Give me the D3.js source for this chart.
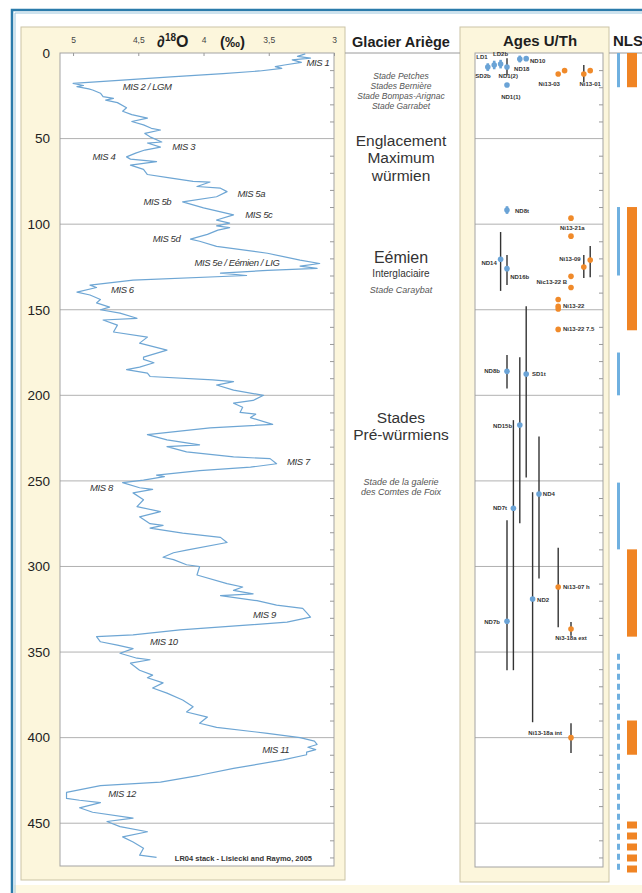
<!DOCTYPE html>
<html>
<head>
<meta charset="utf-8">
<script src="https://cdn.jsdelivr.net/npm/d3@7"></script>
<style>
  body { margin: 0; background: #fff; }
  text { font-family: "Liberation Sans", Arial, sans-serif; }
</style>
</head>
<body>
<div id="chart"></div>
<script>
// LR04 benthic d18O stack (age in ka, d18O in permil)
var ageKa = [0.5, 2, 3, 4, 5.5, 7, 8, 9, 10.5, 12, 14, 16, 17.7, 19, 19.6, 21, 21.6, 23.5, 25.5, 26.5,
  27.5, 29, 32, 34, 36, 38, 40, 42, 44, 45, 47, 49, 52, 52.6, 55, 56.7, 58.5, 60.7, 62, 63.5,
  65.5, 68, 71, 73, 75, 75.4, 78, 79, 81, 84, 87, 90.5, 94.6, 97.6, 99.4, 101, 102, 103.5, 106, 108.7,
  110, 113, 117, 121, 123, 124.5, 125.8, 127, 128.6, 130, 132.7, 135.6, 137, 139.7, 141.4, 144, 146, 148.5, 150, 152,
  155, 156, 159, 163, 166, 169.5, 173.6, 177.7, 179, 181, 183.5, 185, 187, 189, 191, 192, 194, 197, 200, 203,
  204.6, 207, 210, 211, 213, 217, 219, 223, 226, 229, 230, 233, 236, 237, 240, 242, 244, 246.6, 247.5, 249.6,
  251, 254, 255, 257, 261, 265, 268, 271, 275, 276, 277.6, 280.5, 283, 286, 290.5, 292, 294.6, 296, 299, 300,
  305, 310, 312, 314, 316, 317, 320, 322.6, 324.5, 327, 329.6, 332.5, 334, 337, 340, 341, 344, 346, 348, 350.7,
  353.6, 354.5, 356.5, 360.6, 363.5, 365, 368, 371, 374, 378, 382, 385, 388, 391.6, 394, 397.5, 400, 402, 404, 405.6,
  407, 408.5, 410, 413, 418, 422, 426, 428, 432, 435.5, 436.6, 438, 441, 443.6, 447, 449, 452, 455, 458, 461,
  464.6, 468.7, 470];
var d18O = [3.22, 3.28, 3.18, 3.32, 3.25, 3.38, 3.45, 3.40, 3.57, 3.85, 4.25, 4.65, 5.0, 4.92, 4.97, 4.88, 4.85, 4.79, 4.77, 4.69,
  4.75, 4.66, 4.59, 4.62, 4.55, 4.43, 4.55, 4.46, 4.40, 4.33, 4.45, 4.41, 4.32, 4.43, 4.33, 4.45, 4.52, 4.59, 4.56, 4.36,
  4.56, 4.46, 4.43, 4.26, 4.08, 3.95, 4.05, 3.87, 3.82, 3.90, 4.16, 4.00, 3.77, 3.90, 3.80, 3.90, 3.80, 3.89, 3.97, 4.10,
  4.03, 3.90, 3.51, 3.26, 3.11, 3.26, 3.13, 3.51, 3.87, 3.67, 4.54, 4.87, 4.82, 4.97, 4.87, 4.79, 4.82, 4.72, 4.79, 4.64,
  4.51, 4.77, 4.66, 4.69, 4.43, 4.49, 4.28, 4.46, 4.46, 4.38, 4.49, 4.59, 4.43, 4.41, 3.93, 3.77, 3.90, 3.77, 3.54, 3.62,
  3.77, 3.70, 3.72, 3.60, 3.64, 3.47, 3.95, 4.43, 4.28, 4.03, 4.28, 4.13, 3.77, 3.49, 3.44, 3.64, 4.03, 4.36, 4.30, 4.46,
  4.62, 4.49, 4.39, 4.54, 4.46, 4.51, 4.33, 4.49, 4.41, 4.31, 4.41, 4.16, 3.87, 3.82, 4.13, 4.23, 4.31, 4.23, 4.13, 4.03,
  4.05, 3.82, 3.70, 3.77, 3.62, 3.87, 3.59, 3.44, 3.24, 3.21, 3.18, 3.36, 3.62, 4.18, 4.54, 4.82, 4.79, 4.66, 4.54, 4.64,
  4.51, 4.41, 4.56, 4.49, 4.39, 4.43, 4.31, 4.39, 4.28, 4.16, 4.08, 4.13, 3.97, 4.03, 3.90, 3.51, 3.26, 3.15, 3.13, 3.20,
  3.14, 3.21, 3.21, 3.39, 3.77, 4.03, 4.33, 4.79, 5.05, 5.05, 4.95, 4.79, 4.95, 4.85, 4.54, 4.74, 4.64, 4.43, 4.62, 4.54,
  4.46, 4.49, 4.36];

// axis ticks
var yTicks = [0, 50, 100, 150, 200, 250, 300, 350, 400, 450];
var xTicks = [5, 4.5, 4, 3.5, 3];
var xTickLabels = ["5", "4,5", "4", "3,5", "3"];

// marine isotope stage labels (age, d18O where the label starts)
var misText = ["MIS 1", "MIS 2 / LGM", "MIS 3", "MIS 4", "MIS 5a", "MIS 5b", "MIS 5c", "MIS 5d",
  "MIS 5e / Eémien / LIG", "MIS 6", "MIS 7", "MIS 8", "MIS 9", "MIS 10", "MIS 11", "MIS 12"];
var misAge = [5.8, 19.9, 55, 60.8, 82.4, 87, 94.7, 108.7, 122.7, 138, 239, 254, 328, 343.7, 407, 433];
var misD18O = [3.21, 4.62, 4.24, 4.85, 3.74, 4.46, 3.68, 4.39, 4.07, 4.71, 3.36, 4.87, 3.62, 4.41, 3.55, 4.73];

// U/Th ages : one entry per dot (lane = column in the panel, group: speleothem ND/LD/SD or Niaux Ni)
var sampleAge = [8.2, 7, 6.4, 8.2, 3.5, 3.3, 18.7, 12.3, 10.3, 12.3, 10.3, 91.8, 96.5, 107, 120.5, 126, 125, 121,
  130.5, 137, 144, 148, 149.5, 161.5, 186, 187.6, 217.4, 257.7, 266, 319, 332, 312, 336.6, 400];
var sampleMin = [6, 4.5, 4, 3, 1.5, null, null, null, null, 7, null, 89.5, null, null, 104.6, 118, 118, 112.8,
  null, null, null, null, null, null, 176.5, 148, 177.7, 224, 214.5, 256.6, 273, 289, 332.5, 391.6];
var sampleMax = [10.5, 9.5, 9, 13, 5.5, null, null, null, null, 17, null, 94, null, null, 139, 135.6, 131.5, 131,
  null, null, null, null, null, null, 196, 248, 274.7, 307, 360.6, 391, 360.6, 335.5, 340.5, 409];
var sampleLane = [2, 3, 4, 5, 7, 8, 5, 13, 14, 17, 18, 5, 15, 15, 4, 5, 17, 18,
  15, 15, 13, 13, 13, 13, 5, 8, 7, 10, 6, 9, 5, 13, 15, 15];
var sampleGroup = ["ND", "ND", "ND", "ND", "ND", "ND", "ND", "Ni", "Ni", "Ni", "Ni", "ND", "Ni", "Ni", "ND", "ND", "Ni", "Ni",
  "Ni", "Ni", "Ni", "Ni", "Ni", "Ni", "ND", "ND", "ND", "ND", "ND", "ND", "ND", "Ni", "Ni", "Ni"];

// sample names (age, lane of the label, anchor)
var labelText = ["LD1", "LD2b", "SD2b", "ND1(2)", "ND18", "ND10", "ND1(1)", "Ni13-03", "Ni13-01", "ND8t", "Ni13-21a",
  "ND14", "ND16b", "Ni13-09", "Nic13-22 B", "Ni13-22", "Ni13-22 7.5", "ND8b", "SD1t", "ND15b", "ND4", "ND7t",
  "ND2", "ND7b", "Ni13-07 h", "Ni3-18a ext", "Ni13-18a int"];
var labelAge = [2.3, 0.8, 13.4, 13.4, 9.4, 4.7, 25.7, 18, 18, 92, 102.3, 122.7, 131, 120.4, 133.8, 147.9, 161.3,
  185.9, 187.6, 218, 257.7, 266, 319.7, 332.6, 312, 341.9, 397.4];
var labelLane = [1.1, 4, 1.25, 5.2, 7.3, 8.6, 5.6, 11.6, 18, 6.25, 15.2, 3.4, 5.5, 16.5, 14.4, 13.75, 13.75,
  3.9, 8.9, 5.8, 10.6, 5, 9.7, 3.9, 13.75, 15, 13.6];
var labelAnchor = ["middle", "middle", "middle", "middle", "middle", "start", "middle", "middle", "middle", "start", "middle",
  "end", "start", "end", "end", "start", "start", "end", "start", "end", "start", "end",
  "start", "end", "start", "middle", "end"];

// NLS periods (ka)
var nlsBlue = [[0, 20], [90, 130], [175, 200], [251, 290]];
var nlsBlueDashed = [[351, 478]];
var nlsOrange = [[0, 20], [90, 162], [290, 341], [390, 410]];
var nlsOrangeDashed = [[449, 479]];


var width = 642, height = 893;
var cream = "#fcf6dc", creamEdge = "#cbc4a6", gridCol = "#9d9d9d";
var blue = "#6aa3d6", orange = "#f08a2a";

var svg = d3.select("#chart")
  .append("svg")
  .attr("width", width)
  .attr("height", height);

// shared age scale and the two x scales
var y = d3.scaleLinear().domain([0, 475]).range([53, 866]);
var x = d3.scaleLinear().domain([5.1, 3]).range([60, 334]);
var xLane = d3.scaleLinear().domain([0, 20]).range([475, 603]);
var xNls = d3.scalePoint().domain(["blue", "orange"]).range([618.5, 632]);

// pale strip at the bottom and outer blue frame
svg.append("rect").attr("x", 14).attr("y", 885).attr("width", width - 14).attr("height", 8).attr("fill", "#fdf8e2");
svg.append("path")
  .attr("d", "M12," + height + "V10H" + width)
  .attr("fill", "none").attr("stroke", "#2b7bab").attr("stroke-width", 2.5);
svg.append("path")
  .attr("d", "M15," + height + "V13H" + width)
  .attr("fill", "none").attr("stroke", "#9cc6dd").attr("stroke-width", 1);

// cream panels
svg.append("rect").attr("x", 21).attr("y", 27).attr("width", 324).attr("height", 853)
  .attr("fill", cream).attr("stroke", creamEdge).attr("stroke-width", 1);
svg.append("rect").attr("x", 460).attr("y", 27).attr("width", 149).attr("height", 855)
  .attr("fill", cream).attr("stroke", creamEdge).attr("stroke-width", 1);

// white plot areas
svg.append("rect").attr("x", x.range()[0]).attr("y", y.range()[0])
  .attr("width", x.range()[1] - x.range()[0]).attr("height", y.range()[1] - y.range()[0])
  .attr("fill", "#fff").attr("stroke", "#a3a3a3").attr("stroke-width", 1);
svg.append("rect").attr("x", xLane.range()[0]).attr("y", y.range()[0])
  .attr("width", xLane.range()[1] - xLane.range()[0]).attr("height", y.range()[1] - y.range()[0] + 1)
  .attr("fill", "#fff").attr("stroke", "#a3a3a3").attr("stroke-width", 1);

// header separators
svg.append("line").attr("x1", 345).attr("x2", 460).attr("y1", 53).attr("y2", 53).attr("stroke", "#9a9a9a");
svg.append("line").attr("x1", 609).attr("x2", width).attr("y1", 53).attr("y2", 53).attr("stroke", "#9a9a9a");

// ---------- left panel : d18O ----------
var grid = yTicks.filter(function (d) { return d > 0; });
svg.append("g").selectAll("line").data(grid).enter().append("line")
  .attr("x1", x.range()[0]).attr("x2", x.range()[1])
  .attr("y1", function (d) { return y(d); }).attr("y2", function (d) { return y(d); })
  .attr("stroke", gridCol).attr("stroke-width", 0.8);

// y axis labels
var yAxis = svg.append("g")
  .attr("transform", "translate(" + x.range()[0] + ",0)")
  .call(d3.axisLeft(y).tickValues(yTicks).tickSize(0).tickPadding(10));
yAxis.select(".domain").remove();
yAxis.selectAll("text").attr("font-size", 13.5).attr("fill", "#222")
  .attr("font-family", "'Liberation Sans', Arial, sans-serif");

// top axis
var xAxis = svg.append("g")
  .attr("transform", "translate(0," + y.range()[0] + ")")
  .call(d3.axisTop(x).tickValues(xTicks)
    .tickFormat(function (d, i) { return xTickLabels[i]; })
    .tickSize(-3).tickPadding(10));
xAxis.select(".domain").remove();
xAxis.selectAll("line").attr("stroke", "#999");
xAxis.selectAll("text").attr("font-size", 8.5).attr("fill", "#444")
  .attr("font-family", "'Liberation Sans', Arial, sans-serif");

// minor ticks every 10 ka on the right edges
var minor = d3.range(10, 475, 10).filter(function (d) { return d % 50 !== 0; });
[x.range()[1], xLane.range()[1]].forEach(function (xr) {
  var g = svg.append("g")
    .attr("transform", "translate(" + xr + ",0)")
    .call(d3.axisRight(y).tickValues(minor).tickSize(-4).tickFormat(""));
  g.select(".domain").remove();
  g.selectAll("line").attr("stroke", "#999");
});

// title of the d18O axis
var title = svg.append("text").attr("x", 157).attr("y", 47)
  .attr("font-size", 16).attr("font-weight", "bold").attr("fill", "#1e1e1e");
title.append("tspan").text("∂");
title.append("tspan").attr("font-size", 10).attr("dy", -6).text("18");
title.append("tspan").attr("dy", 6).text("O");
svg.append("text").attr("x", 220).attr("y", 47)
  .attr("font-size", 15).attr("font-weight", "bold").attr("fill", "#1e1e1e").text("(‰)");

// the curve
var line = d3.line()
  .x(function (d) { return x(d[1]); })
  .y(function (d) { return y(d[0]); });
svg.append("path")
  .datum(d3.zip(ageKa, d18O))
  .attr("fill", "none")
  .attr("stroke", "#6ea6d4")
  .attr("stroke-width", 1.2)
  .attr("stroke-linejoin", "round")
  .attr("d", line);

// MIS labels
svg.append("g").selectAll("text").data(misText).enter().append("text")
  .attr("x", function (d, i) { return x(misD18O[i]); })
  .attr("y", function (d, i) { return y(misAge[i]); })
  .attr("dy", "0.35em")
  .attr("font-size", 9.5).attr("font-style", "italic").attr("letter-spacing", -0.4)
  .attr("fill", "#333")
  .text(function (d) { return d; });

svg.append("text").attr("x", 312).attr("y", 861).attr("text-anchor", "end")
  .attr("font-size", 7.5).attr("font-weight", "bold").attr("fill", "#333")
  .text("LR04 stack - Lisiecki and Raymo, 2005");

// ---------- middle column : Glacier Ariège ----------
var cx = 401;
svg.append("text").attr("x", cx).attr("y", 47).attr("text-anchor", "middle")
  .attr("font-size", 14.5).attr("font-weight", "bold").attr("fill", "#1e1e1e").text("Glacier Ariège");

var stages = [
  ["Stade Petches", 79, 8.5, "italic"], ["Stades Bernière", 89, 8.5, "italic"],
  ["Stade Bompas-Arignac", 99, 8.5, "italic"], ["Stade Garrabet", 109, 8.5, "italic"],
  ["Englacement", 145.5, 15.5, "normal"], ["Maximum", 163, 15.5, "normal"], ["würmien", 180.5, 15.5, "normal"],
  ["Eémien", 263, 16, "normal"], ["Interglaciaire", 277, 10, "normal"], ["Stade Caraybat", 293, 9, "italic"],
  ["Stades", 423, 15.5, "normal"], ["Pré-würmiens", 440, 15.5, "normal"],
  ["Stade de la galerie", 485, 9, "italic"], ["des Comtes de Foix", 495, 9, "italic"]
];
svg.append("g").selectAll("text").data(stages).enter().append("text")
  .attr("x", cx).attr("y", function (d) { return d[1]; })
  .attr("text-anchor", "middle")
  .attr("font-size", function (d) { return d[2]; })
  .attr("font-style", function (d) { return d[3]; })
  .attr("fill", function (d) { return d[3] === "italic" ? "#555" : "#333"; })
  .text(function (d) { return d[0]; });

// ---------- Ages U/Th panel ----------
svg.append("text").attr("x", 540).attr("y", 46).attr("text-anchor", "middle")
  .attr("font-size", 15).attr("font-weight", "bold").attr("fill", "#1e1e1e").text("Ages U/Th");

svg.append("g").selectAll("line").data(grid).enter().append("line")
  .attr("x1", xLane.range()[0]).attr("x2", xLane.range()[1])
  .attr("y1", function (d) { return y(d); }).attr("y2", function (d) { return y(d); })
  .attr("stroke", gridCol).attr("stroke-width", 0.8);

var idx = d3.range(sampleAge.length);
var colorOf = function (i) { return sampleGroup[i] === "Ni" ? orange : blue; };

// error bars : long ones dark, short ones in the dot colour (diamond look)
svg.append("g").selectAll("line").data(idx.filter(function (i) { return sampleMin[i] !== null; }))
  .enter().append("line")
  .attr("x1", function (i) { return xLane(sampleLane[i]); })
  .attr("x2", function (i) { return xLane(sampleLane[i]); })
  .attr("y1", function (i) { return y(sampleMin[i]); })
  .attr("y2", function (i) { return y(sampleMax[i]); })
  .attr("stroke", function (i) { return sampleMax[i] - sampleMin[i] < 6 ? colorOf(i) : "#333"; })
  .attr("stroke-width", function (i) { return sampleMax[i] - sampleMin[i] < 6 ? 2.6 : 1.4; });

svg.append("g").selectAll("circle").data(idx).enter().append("circle")
  .attr("cx", function (i) { return xLane(sampleLane[i]); })
  .attr("cy", function (i) { return y(sampleAge[i]); })
  .attr("r", 2.8)
  .attr("fill", colorOf);

svg.append("g").selectAll("text").data(labelText).enter().append("text")
  .attr("x", function (d, i) { return xLane(labelLane[i]); })
  .attr("y", function (d, i) { return y(labelAge[i]); })
  .attr("dy", "0.35em")
  .attr("text-anchor", function (d, i) { return labelAnchor[i]; })
  .attr("font-size", 6).attr("font-weight", "bold").attr("fill", "#333")
  .text(function (d) { return d; });

// ---------- NLS ----------
svg.append("text").attr("x", 613).attr("y", 46)
  .attr("font-size", 15).attr("font-weight", "bold").attr("fill", "#1e1e1e").text("NLS");

svg.append("g").selectAll("rect").data(nlsBlue).enter().append("rect")
  .attr("x", xNls("blue") - 1.5).attr("width", 3)
  .attr("y", function (d) { return y(d[0]); })
  .attr("height", function (d) { return y(d[1]) - y(d[0]); })
  .attr("fill", "#6fb0e0");
svg.append("g").selectAll("line").data(nlsBlueDashed).enter().append("line")
  .attr("x1", xNls("blue")).attr("x2", xNls("blue"))
  .attr("y1", function (d) { return y(d[0]); }).attr("y2", function (d) { return y(d[1]); })
  .attr("stroke", "#6fb0e0").attr("stroke-width", 3).attr("stroke-dasharray", "6,4");
svg.append("g").selectAll("rect").data(nlsOrange).enter().append("rect")
  .attr("x", xNls("orange") - 5).attr("width", 10)
  .attr("y", function (d) { return y(d[0]); })
  .attr("height", function (d) { return y(d[1]) - y(d[0]); })
  .attr("fill", "#f08424");
svg.append("g").selectAll("line").data(nlsOrangeDashed).enter().append("line")
  .attr("x1", xNls("orange")).attr("x2", xNls("orange"))
  .attr("y1", function (d) { return y(d[0]); }).attr("y2", function (d) { return y(d[1]); })
  .attr("stroke", "#f08424").attr("stroke-width", 10).attr("stroke-dasharray", "7,4");
</script>
</body>
</html>
